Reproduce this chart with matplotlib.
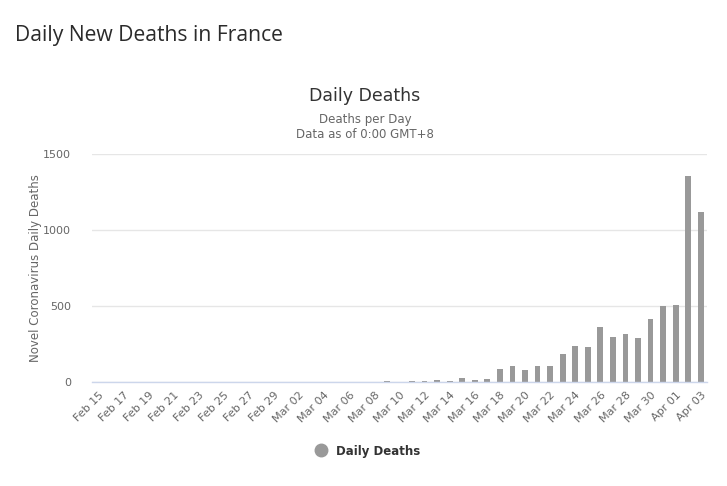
import matplotlib
matplotlib.use("Agg")
import matplotlib.pyplot as plt
from matplotlib.lines import Line2D

dates = (["Feb %02d" % d for d in range(15, 30)] +
         ["Mar %02d" % d for d in range(1, 32)] +
         ["Apr %02d" % d for d in range(1, 4)])

deaths = ([0] * 23 +
          [6, 0, 8, 8, 15, 6, 28, 14, 22,
           85, 104, 76, 108, 108, 182, 236, 228, 360, 295, 315, 288,
           414, 498, 506, 1352, 1116])

yticks = [0, 500, 1000, 1500]

fig = plt.figure(figsize=(7.27, 4.86), dpi=100)
ax = fig.add_axes([92 / 727, 1 - 382 / 486, 615 / 727, 228 / 486])

x = list(range(len(dates)))
ax.bar(x, deaths, width=0.46, color="#999999", zorder=3)

ax.set_xlim(-0.5, len(dates) - 0.5)
ax.set_ylim(0, 1500)
ax.set_yticks(yticks)
ax.set_yticklabels([str(v) for v in yticks], color="#666666", fontsize=8,
                   family="DejaVu Sans")
ax.yaxis.grid(True, color="#e6e6e6", linewidth=1, zorder=0)
ax.tick_params(axis="y", length=0, pad=15)

ax.set_xticks(x[::2])
ax.set_xticklabels(dates[::2], rotation=45, ha="right", rotation_mode="anchor",
                   color="#666666", fontsize=8, family="DejaVu Sans")
ax.tick_params(axis="x", length=0, pad=6)

for s in ["top", "right", "left"]:
    ax.spines[s].set_visible(False)
ax.spines["bottom"].set_color("#ccd6eb")
ax.spines["bottom"].set_linewidth(1)
ax.spines["bottom"].set_zorder(4)

ax.set_ylabel("Novel Coronavirus Daily Deaths", color="#666666", fontsize=8.5,
              family="DejaVu Sans", va="center")
ax.yaxis.set_label_coords((35 - 92) / 615, 0.5)

fig.text(15 / 727, 1 - 35 / 486, "Daily New Deaths in France", fontsize=15.2,
         color="#2b2b2b", ha="left", va="center", family="Open Sans",
         weight="medium")
fig.text(365 / 727, 1 - 96 / 486, "Daily Deaths", fontsize=12.5,
         color="#333333", ha="center", va="center", family="DejaVu Sans")
fig.text(365 / 727, 1 - 119 / 486, "Deaths per Day", fontsize=8.5,
         color="#666666", ha="center", va="center", family="DejaVu Sans")
fig.text(365 / 727, 1 - 134 / 486, "Data as of 0:00 GMT+8", fontsize=8.5,
         color="#666666", ha="center", va="center", family="DejaVu Sans")

handle = Line2D([], [], marker="o", linestyle="none", markersize=9,
                markerfacecolor="#999999", markeredgecolor="#999999")
leg = fig.legend([handle], ["Daily Deaths"], loc="center",
                 bbox_to_anchor=(365 / 727, 1 - 451 / 486), frameon=False,
                 handletextpad=0.3, prop={"size": 8.5, "weight": "bold",
                                          "family": "DejaVu Sans"})
for t in leg.get_texts():
    t.set_color("#333333")

fig.savefig("out.png", dpi=100)
